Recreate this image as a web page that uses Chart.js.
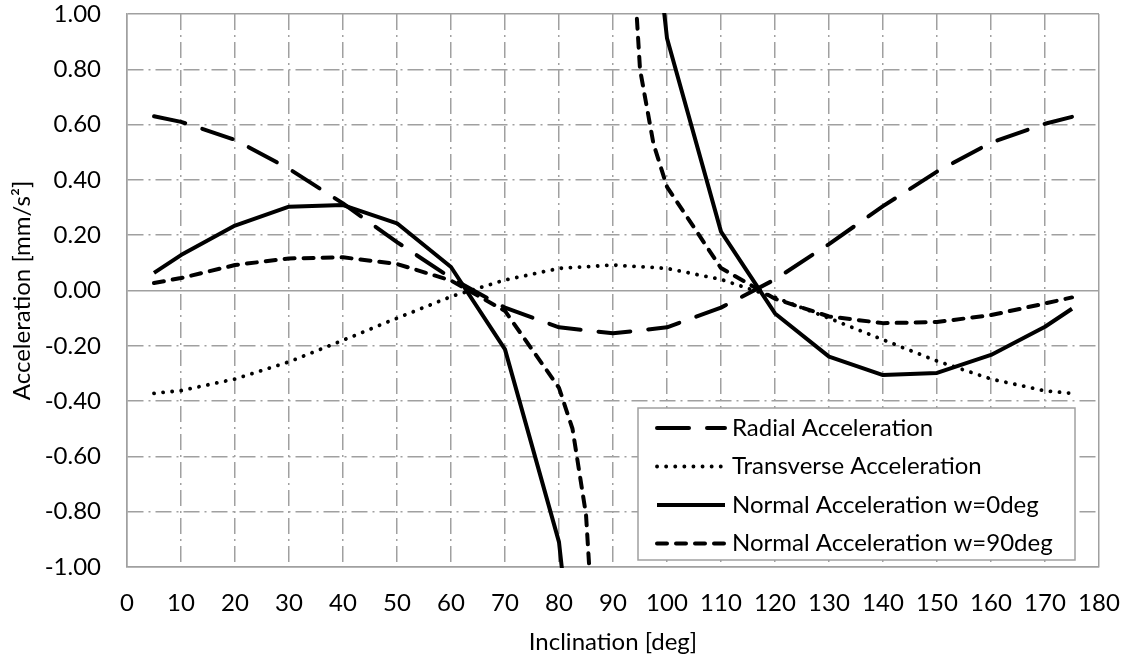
<!DOCTYPE html>
<html>
<head>
<meta charset="utf-8">
<title>Acceleration vs Inclination</title>
<script src="https://cdn.jsdelivr.net/npm/chart.js@4.4.1/dist/chart.umd.min.js"></script>
<style>
  html, body { margin: 0; padding: 0; background: #fff; }
  canvas { display: block; }
</style>
</head>
<body>
<canvas id="chart" width="1125" height="659"></canvas>
<script>
// inclination [deg] for the radial / transverse series
const inclination = [5, 10, 20, 30, 40, 50, 60, 70, 80, 90, 100, 110, 120, 130, 140, 150, 160, 170, 175];
const radial = [0.63, 0.61, 0.545, 0.44, 0.315, 0.175, 0.045, -0.062, -0.133, -0.155, -0.133, -0.062, 0.04, 0.168, 0.305, 0.43, 0.535, 0.603, 0.628];
const transverse = [-0.372, -0.362, -0.32, -0.258, -0.18, -0.1, -0.022, 0.038, 0.08, 0.092, 0.08, 0.04, -0.025, -0.1, -0.178, -0.255, -0.32, -0.363, -0.372];

// normal acceleration blows up near 90 deg, so those series carry extra points there
const normal0Deg = [5, 10, 20, 30, 40, 50, 60, 70, 80, 85, 90, 95, 100, 110, 120, 130, 140, 150, 160, 170, 175];
const normal0 = [0.064, 0.128, 0.235, 0.303, 0.309, 0.243, 0.085, -0.213, -0.91, -1.8, null, 1.8, 0.912, 0.213, -0.083, -0.239, -0.306, -0.298, -0.233, -0.131, -0.066];
const normal90Deg = [5, 10, 20, 30, 40, 50, 60, 70, 80, 82.5, 85, 87.5, 90, 92.5, 95, 97.5, 100, 110, 120, 130, 140, 150, 160, 170, 175];
const normal90 = [0.027, 0.045, 0.092, 0.116, 0.12, 0.096, 0.036, -0.074, -0.352, -0.5, -0.81, -1.6, null, 1.6, 0.8, 0.53, 0.375, 0.081, -0.03, -0.094, -0.118, -0.114, -0.089, -0.047, -0.025];

const FONT = 'Lato, "Open Sans", sans-serif';
const GRID = '#a0a0a0';
const textFont = { family: FONT, size: 24 };

function points(xs, ys) {
  return xs.map((x, i) => ({ x, y: ys[i] }));
}

// dash-dot grid, but solid on the zero line and on the plot frame
function gridDash(min, max) {
  return (ctx) => {
    if (!ctx.tick) return [];
    const v = ctx.tick.value;
    if (Math.abs(v) < 1e-9 || Math.abs(v - min) < 1e-9 || Math.abs(v - max) < 1e-9) return [];
    return [16, 5, 2, 5];
  };
}

const boxLegend = {
  id: 'boxLegend',
  afterDraw(chart) {
    const { ctx, chartArea } = chart;
    const w = 437, h = 152;
    const left = chartArea.right - 24 - w;
    const top = chartArea.bottom - 7 - h;
    ctx.save();
    ctx.fillStyle = '#fff';
    ctx.fillRect(left, top, w, h);
    ctx.strokeStyle = GRID;
    ctx.lineWidth = 1.5;
    ctx.strokeRect(left, top, w, h);

    ctx.font = textFont.size + 'px ' + FONT;
    ctx.textBaseline = 'middle';
    ctx.fillStyle = '#000';
    chart.data.datasets.forEach((ds, i) => {
      const y = top + 20 + i * 38.5;
      ctx.save();
      ctx.strokeStyle = ds.borderColor;
      ctx.lineWidth = ds.borderWidth;
      ctx.lineCap = ds.borderCapStyle || 'butt';
      ctx.setLineDash(ds.borderDash || []);
      ctx.beginPath();
      ctx.moveTo(left + 19, y);
      ctx.lineTo(left + 87, y);
      ctx.stroke();
      ctx.restore();
      ctx.fillText(ds.label, left + 94, y);
    });
    ctx.restore();
  }
};

const lineBase = {
  borderColor: '#000',
  borderWidth: 4,
  pointRadius: 0,
  tension: 0,
  fill: false,
  spanGaps: false,
  clip: 1,
  borderJoinStyle: 'round'
};

new Chart(document.getElementById('chart'), {
  type: 'line',
  data: {
    datasets: [
      { ...lineBase, label: 'Radial Acceleration', data: points(inclination, radial), borderDash: [32, 18], borderCapStyle: 'round' },
      { ...lineBase, label: 'Transverse Acceleration', data: points(inclination, transverse), borderWidth: 3.8, borderDash: [0.1, 9], borderCapStyle: 'round' },
      { ...lineBase, label: 'Normal Acceleration w=0deg', data: points(normal0Deg, normal0) },
      { ...lineBase, label: 'Normal Acceleration w=90deg', data: points(normal90Deg, normal90), borderDash: [10, 9], borderCapStyle: 'round' }
    ]
  },
  options: {
    responsive: false,
    animation: false,
    devicePixelRatio: 1,
    layout: { padding: { top: 14, right: 26, left: 0, bottom: 0 } },
    plugins: { legend: { display: false }, tooltip: { enabled: false } },
    scales: {
      x: {
        type: 'linear',
        min: 0,
        max: 180,
        ticks: { stepSize: 10, color: '#000', font: textFont, padding: 22, maxRotation: 0, autoSkip: false },
        grid: { color: GRID, lineWidth: 1.5, drawTicks: false },
        border: { color: GRID, width: 1.5, dash: gridDash(0, 180) },
        title: { display: true, text: 'Inclination [deg]', color: '#000', font: textFont, padding: { top: 0, bottom: 2 } },
        afterFit: (s) => { s.height = 92; s.paddingLeft = 0; s.paddingRight = 0; }
      },
      y: {
        type: 'linear',
        min: -1,
        max: 1,
        ticks: { stepSize: 0.2, color: '#000', font: textFont, padding: 26, callback: (v) => v.toFixed(2) },
        grid: { color: GRID, lineWidth: 1.5, drawTicks: false },
        border: { color: GRID, width: 1.5, dash: gridDash(-1, 1) },
        title: { display: true, text: 'Acceleration [mm/s²]', color: '#000', font: textFont, padding: { top: 8, bottom: 0 } },
        afterFit: (s) => { s.width = 127; s.paddingTop = 0; s.paddingBottom = 0; }
      }
    }
  },
  plugins: [boxLegend]
});
</script>
</body>
</html>
